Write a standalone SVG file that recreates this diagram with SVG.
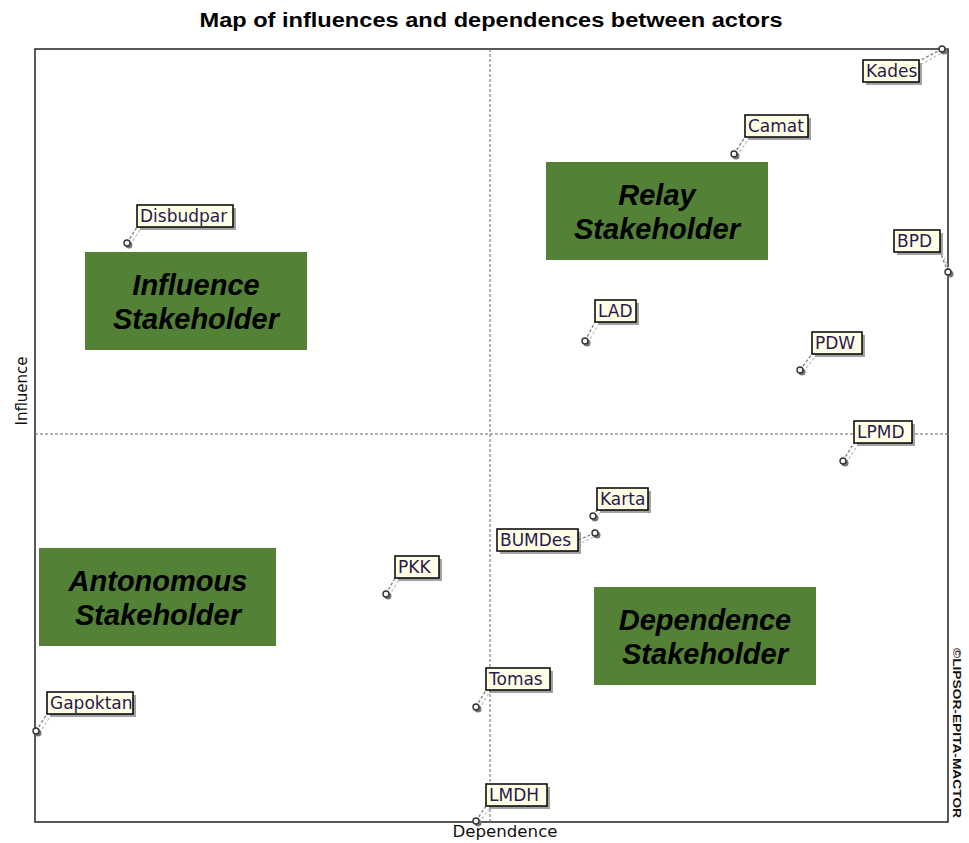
<svg xmlns="http://www.w3.org/2000/svg" width="969" height="843" viewBox="0 0 969 843">
<style>
.title{font-family:"Liberation Sans",Arial,sans-serif;font-weight:bold;font-size:20px;fill:#000}
.axis{font-family:"DejaVu Sans","Liberation Sans",sans-serif;font-size:15px;fill:#111}
.copy{font-family:"Liberation Sans",Arial,sans-serif;font-weight:bold;font-size:11px;fill:#111}
.quad rect{fill:#538135}
.quad text{font-family:"Liberation Sans",Arial,sans-serif;font-weight:bold;font-style:italic;font-size:29px;fill:#000;text-anchor:middle}
.lbl rect.sh{fill:#7a7a7a;opacity:0.7}
.lbl rect.bx{fill:#ffffe6;stroke:#000;stroke-width:1.5}
.lbl text{font-family:"DejaVu Sans","Liberation Sans",sans-serif;font-size:17px;fill:#2a1a50}
.ld{stroke:#888;stroke-width:1.4;stroke-dasharray:3,2;fill:none}
.lds{stroke:#c8c8c8;stroke-width:1.4;stroke-dasharray:3,2;fill:none}
.pt{fill:#f4f4f4;stroke:#333;stroke-width:1.4}
.pts{fill:#777}
</style>
<rect width="969" height="843" fill="#fff"/>
<text class="title" x="491" y="27" text-anchor="middle" textLength="583" lengthAdjust="spacingAndGlyphs">Map of influences and dependences between actors</text>
<g id="frame">
<rect x="35" y="49" width="913" height="773" fill="none" stroke="#222" stroke-width="1.5"/>
<line x1="490" y1="49" x2="490" y2="822" stroke="#666" stroke-width="1" stroke-dasharray="3,2"/>
<line x1="35" y1="434" x2="948" y2="434" stroke="#666" stroke-width="1" stroke-dasharray="3,2"/>
</g>
<text class="axis" x="505" y="837" text-anchor="middle" textLength="105" lengthAdjust="spacingAndGlyphs">Dependence</text>
<text class="axis" transform="translate(27,391) rotate(-90)" text-anchor="middle">Influence</text>
<text class="copy" transform="translate(953,733) rotate(90)" text-anchor="middle" textLength="170" lengthAdjust="spacingAndGlyphs">©LIPSOR-EPITA-MACTOR</text>

<g id="q-relay" class="quad"><rect x="546" y="162" width="222" height="98"/><text x="657" y="205">Relay</text><text x="657" y="239">Stakeholder</text></g>
<g id="q-influence" class="quad"><rect x="85" y="252" width="222" height="98"/><text x="196" y="295">Influence</text><text x="196" y="329">Stakeholder</text></g>
<g id="q-autonomous" class="quad"><rect x="39" y="548" width="237" height="98"/><text x="158" y="591">Antonomous</text><text x="158" y="625">Stakeholder</text></g>
<g id="q-dependence" class="quad"><rect x="594" y="587" width="222" height="98"/><text x="705" y="630">Dependence</text><text x="705" y="664">Stakeholder</text></g>

<g id="connectors">
<line class="lds" x1="945" y1="51" x2="922" y2="64"/><line class="ld" x1="942" y1="49" x2="919" y2="61"/>
<line class="lds" x1="737" y1="156" x2="748" y2="140"/><line class="ld" x1="734" y1="154" x2="745" y2="137"/>
<line class="lds" x1="130" y1="245" x2="140" y2="230"/><line class="ld" x1="127" y1="243" x2="137" y2="227"/>
<line class="lds" x1="951" y1="274" x2="943" y2="255"/><line class="ld" x1="948" y1="272" x2="940" y2="252"/>
<line class="lds" x1="588" y1="343" x2="598" y2="325"/><line class="ld" x1="585" y1="341" x2="595" y2="322"/>
<line class="lds" x1="803" y1="372" x2="815" y2="357"/><line class="ld" x1="800" y1="370" x2="812" y2="354"/>
<line class="lds" x1="846" y1="463" x2="857" y2="446"/><line class="ld" x1="843" y1="461" x2="854" y2="443"/>
<line class="lds" x1="596" y1="518" x2="600" y2="513"/><line class="ld" x1="593" y1="516" x2="597" y2="510"/>
<line class="lds" x1="598" y1="535" x2="581" y2="543"/><line class="ld" x1="595" y1="533" x2="578" y2="540"/>
<line class="lds" x1="389" y1="596" x2="398" y2="581"/><line class="ld" x1="386" y1="594" x2="395" y2="578"/>
<line class="lds" x1="479" y1="709" x2="489" y2="693"/><line class="ld" x1="476" y1="707" x2="486" y2="690"/>
<line class="lds" x1="39" y1="733" x2="50" y2="717"/><line class="ld" x1="36" y1="731" x2="47" y2="714"/>
<line class="lds" x1="479" y1="823" x2="489" y2="809"/><line class="ld" x1="476" y1="821" x2="486" y2="806"/>
</g>

<g id="n-kades" class="lbl"><circle class="pts" cx="944" cy="51" r="3.5"/><circle class="pt" cx="942" cy="49" r="3"/><rect class="sh" x="866" y="63" width="56" height="22"/><rect class="bx" x="863" y="60" width="56" height="22"/><text x="866" y="77">Kades</text></g>
<g id="n-camat" class="lbl"><circle class="pts" cx="736" cy="156" r="3.5"/><circle class="pt" cx="734" cy="154" r="3"/><rect class="sh" x="748" y="118" width="63" height="22"/><rect class="bx" x="745" y="115" width="63" height="22"/><text x="748" y="132">Camat</text></g>
<g id="n-disbudpar" class="lbl"><circle class="pts" cx="129" cy="245" r="3.5"/><circle class="pt" cx="127" cy="243" r="3"/><rect class="sh" x="140" y="208" width="96" height="22"/><rect class="bx" x="137" y="205" width="96" height="22"/><text x="140" y="222">Disbudpar</text></g>
<g id="n-bpd" class="lbl"><circle class="pts" cx="950" cy="274" r="3.5"/><circle class="pt" cx="948" cy="272" r="3"/><rect class="sh" x="897" y="233" width="46" height="22"/><rect class="bx" x="894" y="230" width="46" height="22"/><text x="897" y="247">BPD</text></g>
<g id="n-lad" class="lbl"><circle class="pts" cx="587" cy="343" r="3.5"/><circle class="pt" cx="585" cy="341" r="3"/><rect class="sh" x="598" y="303" width="41" height="22"/><rect class="bx" x="595" y="300" width="41" height="22"/><text x="598" y="317">LAD</text></g>
<g id="n-pdw" class="lbl"><circle class="pts" cx="802" cy="372" r="3.5"/><circle class="pt" cx="800" cy="370" r="3"/><rect class="sh" x="815" y="335" width="50" height="22"/><rect class="bx" x="812" y="332" width="50" height="22"/><text x="815" y="349">PDW</text></g>
<g id="n-lpmd" class="lbl"><circle class="pts" cx="845" cy="463" r="3.5"/><circle class="pt" cx="843" cy="461" r="3"/><rect class="sh" x="857" y="424" width="58" height="22"/><rect class="bx" x="854" y="421" width="58" height="22"/><text x="857" y="438">LPMD</text></g>
<g id="n-karta" class="lbl"><circle class="pts" cx="595" cy="518" r="3.5"/><circle class="pt" cx="593" cy="516" r="3"/><rect class="sh" x="600" y="491" width="51" height="22"/><rect class="bx" x="597" y="488" width="51" height="22"/><text x="600" y="505">Karta</text></g>
<g id="n-bumdes" class="lbl"><circle class="pts" cx="597" cy="535" r="3.5"/><circle class="pt" cx="595" cy="533" r="3"/><rect class="sh" x="500" y="532" width="81" height="22"/><rect class="bx" x="497" y="529" width="81" height="22"/><text x="500" y="546">BUMDes</text></g>
<g id="n-pkk" class="lbl"><circle class="pts" cx="388" cy="596" r="3.5"/><circle class="pt" cx="386" cy="594" r="3"/><rect class="sh" x="398" y="559" width="44" height="22"/><rect class="bx" x="395" y="556" width="44" height="22"/><text x="398" y="573">PKK</text></g>
<g id="n-tomas" class="lbl"><circle class="pts" cx="478" cy="709" r="3.5"/><circle class="pt" cx="476" cy="707" r="3"/><rect class="sh" x="489" y="671" width="64" height="22"/><rect class="bx" x="486" y="668" width="64" height="22"/><text x="489" y="685">Tomas</text></g>
<g id="n-gapoktan" class="lbl"><circle class="pts" cx="38" cy="733" r="3.5"/><circle class="pt" cx="36" cy="731" r="3"/><rect class="sh" x="50" y="695" width="86" height="22"/><rect class="bx" x="47" y="692" width="86" height="22"/><text x="50" y="709">Gapoktan</text></g>
<g id="n-lmdh" class="lbl"><circle class="pts" cx="478" cy="823" r="3.5"/><circle class="pt" cx="476" cy="821" r="3"/><rect class="sh" x="489" y="787" width="61" height="22"/><rect class="bx" x="486" y="784" width="61" height="22"/><text x="489" y="801">LMDH</text></g>
</svg>
